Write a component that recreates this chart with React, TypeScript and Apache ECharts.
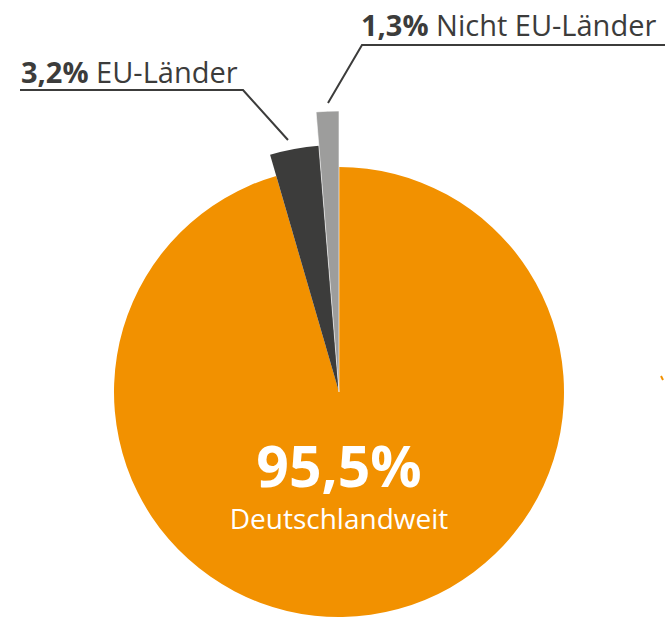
import React, { useEffect, useRef } from "react";
import * as echarts from "echarts";

const categories = ["Deutschlandweit", "EU-Länder", "Nicht EU-Länder"];
const values = [95.5, 3.2, 1.3];
const colors = ["#F29100", "#3C3C3B", "#9D9D9C"];
const radii = [225, 247, 281];

const fmt = (v: number) => v.toFixed(1).replace(".", ",") + "%";

export default function App() {
  const ref = useRef<HTMLDivElement>(null);
  useEffect(() => {
    const chart = echarts.init(ref.current!, null, { renderer: "svg" });
    const FONT = "Open Sans";
    const series = values.map((_, si) => ({
      type: "pie",
      center: [339, 392],
      radius: [0, radii[si]],
      startAngle: 90,
      clockwise: true,
      silent: true,
      label: { show: false },
      labelLine: { show: false },
      z: 2 + si,
      data: values.map((v, i) => ({
        name: categories[i],
        value: v,
        itemStyle: {
          color: i === si ? colors[i] : "rgba(0,0,0,0)",
          borderColor: i === si && i === 2 ? "#ffffff" : "rgba(0,0,0,0)",
          borderWidth: i === si && i === 2 ? 0.6 : 0,
        },
      })),
    }));
    const rich = {
      b: { font: `bold 29px '${FONT}'`, fill: "#3C3C3B", lineHeight: 32 },
      r: { font: `29px '${FONT}'`, fill: "#3C3C3B", lineHeight: 32 },
    };
    chart.setOption({
      animation: false,
      series,
      graphic: [
        {
          type: "text",
          x: 339,
          y: 465,
          style: {
            text: fmt(values[0]),
            fill: "#ffffff",
            font: `bold 57px '${FONT}'`,
            lineHeight: 58,
            align: "center",
            verticalAlign: "middle",
          },
          z: 10,
        },
        {
          type: "text",
          x: 339,
          y: 518,
          style: {
            text: categories[0],
            fill: "#ffffff",
            font: `28px '${FONT}'`,
            lineHeight: 30,
            align: "center",
            verticalAlign: "middle",
          },
          z: 10,
        },
        {
          type: "text",
          x: 21,
          y: 71,
          style: {
            text: `{b|${fmt(values[1])}}{r|\u00a0${categories[1]}}`,
            verticalAlign: "middle",
            rich,
          },
          z: 10,
        },
        {
          type: "polyline",
          shape: { points: [[20, 90], [243, 90], [288, 140]] },
          style: { stroke: "#3C3C3B", lineWidth: 2, fill: "none" },
          z: 10,
        },
        {
          type: "text",
          x: 361,
          y: 24,
          style: {
            text: `{b|${fmt(values[2])}}{r|\u00a0${categories[2]}}`,
            verticalAlign: "middle",
            rich,
          },
          z: 10,
        },
        {
          type: "polyline",
          shape: { points: [[665, 45], [362, 45], [328, 103]] },
          style: { stroke: "#3C3C3B", lineWidth: 2, fill: "none" },
          z: 10,
        },
        {
          type: "line",
          shape: { x1: 661, y1: 376, x2: 663, y2: 380 },
          style: { stroke: "#F29100", lineWidth: 2 },
          z: 10,
        },
      ],
    });
    return () => chart.dispose();
  }, []);
  return (
    <div
      ref={ref}
      style={{ position: "absolute", left: 0, top: 0, width: 665, height: 617, background: "#ffffff" }}
    />
  );
}
